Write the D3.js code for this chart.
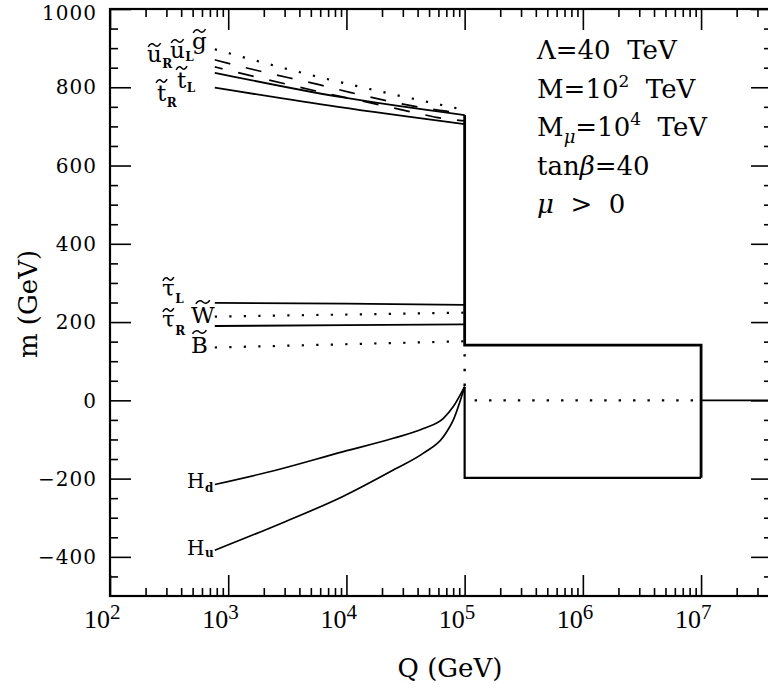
<!DOCTYPE html>
<html><head><meta charset="utf-8">
<script src="https://cdn.jsdelivr.net/npm/d3@7"></script>
<style>
body{margin:0;background:#fff}
text{font-family:"DejaVu Serif",serif;fill:#000}
</style>
</head><body>
<svg id="c" width="768" height="691"></svg>
<script>
// ---- data: [Q (GeV), m (GeV)] ----
const gluino = [[770,897],[3030,848],[100000,742]];
const uL     = [[770,870],[1690,844],[5990,806],[10700,787],[69700,739],[100000,734]];
const uR     = [[770,852],[1690,827],[5990,788],[20400,753],[38000,735],[69700,719],[100000,714]];
const tL     = [[770,837],[8490,776],[100000,729]];
const tR     = [[770,799],[8490,750],[100000,706]];
const tauL   = [[770,249],[10000,247],[100000,244]];
const wino   = [[770,214],[100000,224]];
const tauR   = [[770,190],[10000,192],[100000,194]];
const bino   = [[770,135],[100000,151]];
const Hd     = [[770,-215],[2570,-178],[9420,-131],[24900,-97],[44800,-72],[66100,-46],[80200,-16],[100000,35]];
const Hu     = [[770,-383],[2570,-319],[9420,-245],[24900,-178],[44800,-135],[66100,-93],[80200,-50],[100000,35]];
// messenger-region step lines
const stepUpper  = [[100000,729],[100000,141],[10000000,141],[10000000,-198]];
const stepLower  = [[10000000,-198],[100000,-198],[100000,35]];
const stepDotV   = [[100000,141],[100000,35]];
const zeroDotted = [[100000,0],[10000000,0]];
const zeroSolid  = [[10000000,0],[40000000,0]];
// axis ticks
const xMajor = [1e2,1e3,1e4,1e5,1e6,1e7];
const xExp   = [2,3,4,5,6,7];
const yMajor = [-400,-200,0,200,400,600,800,1000];
const yLabels= ["\u2212400","\u2212200","0","200","400","600","800","1000"];

const svg = d3.select("#c");
const L=110, R=772, T=9, B=596;
const x = d3.scaleLog().domain([100, Math.pow(10,7.6)]).range([L,R]);
const y = d3.scaleLinear().domain([-500,1000]).range([B,T]);

const xMinor=[];
for(let e=2;e<=7;e++) for(let k=2;k<=9;k++){const v=k*Math.pow(10,e); if(v<Math.pow(10,7.6)) xMinor.push(v);}
const yMinor=d3.range(-450,1000,50).filter(v=>v%200!==0);

function ax(gen, tr, vals, size){
  const g=svg.append("g").attr("transform",tr)
    .call(gen.tickValues(vals).tickSize(size).tickSizeOuter(0).tickFormat(""));
  g.select(".domain").remove();
  g.selectAll(".tick line").attr("stroke","#000").attr("stroke-width",1.6);
}
ax(d3.axisBottom(x),`translate(0,${B})`,xMajor,-21);
ax(d3.axisBottom(x),`translate(0,${B})`,xMinor,-8);
ax(d3.axisTop(x),`translate(0,${T})`,xMajor,-21);
ax(d3.axisTop(x),`translate(0,${T})`,xMinor,-8);
ax(d3.axisLeft(y),`translate(${L},0)`,yMajor,-21);
ax(d3.axisLeft(y),`translate(${L},0)`,yMinor,-8);
ax(d3.axisRight(y),`translate(${R},0)`,yMajor,-21);
ax(d3.axisRight(y),`translate(${R},0)`,yMinor,-8);

svg.append("rect").attr("x",L).attr("y",T).attr("width",R-L).attr("height",B-T)
  .attr("fill","none").attr("stroke","#000").attr("stroke-width",2.2);

// tick labels
xMajor.forEach((v,i)=>{
  const t=svg.append("text").attr("x",x(v)).attr("y",628).attr("text-anchor","end")
    .style("font-family","'Liberation Serif',serif").style("font-size","26px");
  t.append("tspan").text("10");
  t.append("tspan").attr("dy",-9).style("font-size","21px").text(xExp[i]);
  const full=t.node().getComputedTextLength();
  t.attr("text-anchor","start").attr("x",x(v)-(full-t.select("tspan:last-child").node().getComputedTextLength()));
});
yMajor.forEach((v,i)=>{
  svg.append("text").attr("x",97).attr("y",Math.max(y(v),13)).attr("dy","0.36em")
    .attr("text-anchor","end").style("font-size","20px").style("letter-spacing","1px").text(yLabels[i]);
});

// axis titles
svg.append("text").attr("x",450).attr("y",677).attr("text-anchor","middle")
  .style("font-size","26px").text("Q (GeV)");
svg.append("text").attr("transform","translate(37,304) rotate(-90)").attr("text-anchor","middle")
  .style("font-size","26px").text("m (GeV)");

// curves
const line = d3.line().x(d=>x(d[0])).y(d=>y(d[1])).curve(d3.curveMonotoneX);
const lin  = d3.line().x(d=>x(d[0])).y(d=>y(d[1]));
function draw(data, gen, w, dash){
  const p=svg.append("path").attr("d",gen(data)).attr("fill","none")
    .attr("stroke","#000").attr("stroke-width",w);
  if(dash) p.attr("stroke-dasharray",dash);
  return p;
}
const DOT="2.2,12.3", DASH="16,16";
draw(gluino,line,2.2,DOT);
draw(uL,line,1.7,DASH);
draw(uR,line,1.7,DASH).attr("stroke-dashoffset",8);
draw(tL,line,1.8);
draw(tR,line,1.8);
draw(tauL,line,1.8);
draw(wino,lin,2.2,DOT);
draw(tauR,line,1.8);
draw(bino,lin,2.2,DOT);
draw(Hd,line,1.7);
draw(Hu,line,1.7);
draw(stepUpper,lin,2.8).attr("stroke-linejoin","miter");
draw(stepLower,lin,2.2).attr("stroke-linejoin","miter");
draw(stepDotV,lin,2.4,"2.4,12.3").attr("stroke-dashoffset",-9);
draw(zeroDotted,lin,2.4,"2.4,12").attr("stroke-dashoffset",-10);
draw(zeroSolid,lin,1.8);

// curve labels: [letter, sub, x, baseline, subdy, tilde height above baseline]
const labels = [
  ["u","R",147,62,6,17],
  ["u","L",170,58,3,17],
  ["g","",192,49,0,18],
  ["t","L",177,88,4,20],
  ["t","R",157,101,6,20],
  ["\u03C4","L",162,296,7,17],
  ["W","",191,323,0,21],
  ["\u03C4","R",162,327,8,17],
  ["B","",191,353,0,21],
  ["H","d",187,488,4,null],
  ["H","u",187,555,2,null]
];
labels.forEach(l=>{
  const isH = l[5]===null;
  const t=svg.append("text").attr("x",l[2]).attr("y",l[3])
    .style("font-size",isH?"20px":"23px");
  const main=t.append("tspan").text(l[0]);
  if(l[1]) t.append("tspan").attr("dx",0.5).attr("dy",l[4])
    .style("font-size","12px").style("font-weight","bold").text(l[1]);
  if(!isH){
    const w=main.node().getComputedTextLength();
    const cx=l[2]+w/2, ty=l[3]-l[5], hw=Math.min(7,Math.max(5.5,w*0.42));
    svg.append("path")
      .attr("d",`M${cx-hw},${ty+1.8} C${cx-hw*0.6},${ty-2.2} ${cx-hw*0.25},${ty-1.6} ${cx},${ty} S${cx+hw*0.6},${ty+2.2} ${cx+hw},${ty-1.8}`)
      .attr("fill","none").attr("stroke","#000").attr("stroke-width",1.5);
  }
});

// annotation block
const ann = svg.append("g").style("font-size","26px");
function row(i){ return ann.append("text").attr("x",537).attr("y",59+i*38.5).style("white-space","pre"); }
let t;
row(0).text("\u039B=40  TeV");
t=row(1); t.append("tspan").text("M=10"); t.append("tspan").attr("dy",-11).style("font-size","17px").text("2");
t.append("tspan").attr("dy",11).text("  TeV");
t=row(2); t.append("tspan").text("M");
t.append("tspan").attr("dy",7).style("font-size","18px").style("font-style","italic").text("\u03BC");
t.append("tspan").attr("dy",-7).text("=10");
t.append("tspan").attr("dy",-11).style("font-size","17px").text("4");
t.append("tspan").attr("dy",11).text("  TeV");
t=row(3); t.append("tspan").text("tan"); t.append("tspan").style("font-style","italic").text("\u03B2"); t.append("tspan").text("=40");
t=row(4); t.append("tspan").style("font-style","italic").text("\u03BC"); t.append("tspan").text("  >  0");
</script>
</body></html>
